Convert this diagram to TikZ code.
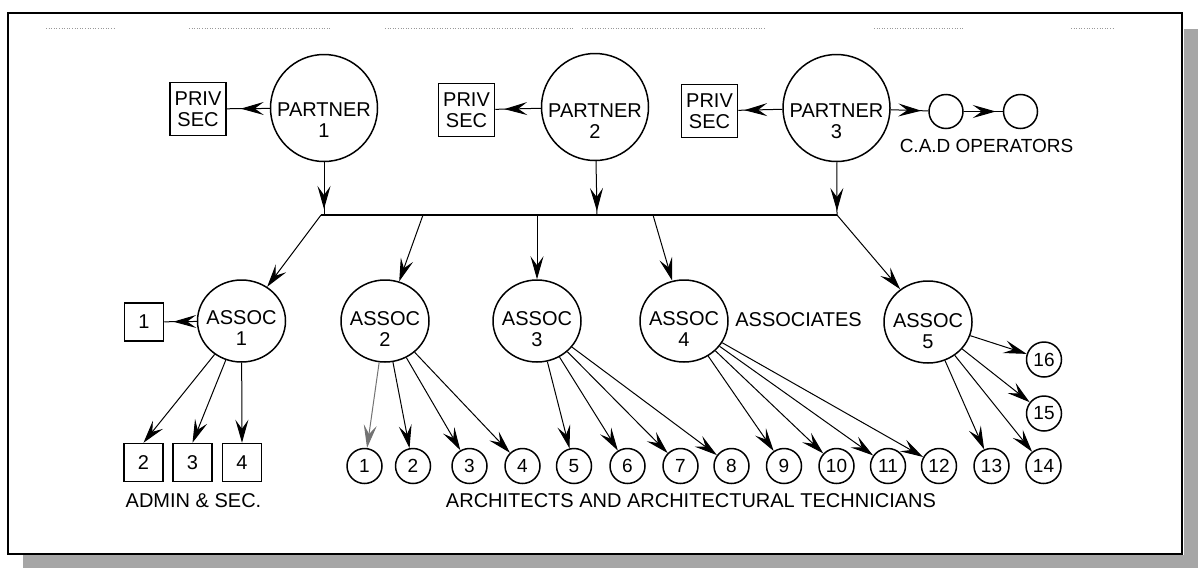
\documentclass[tikz,border=0pt]{standalone}
\usepackage{fontspec}
\setmainfont{Liberation Sans}
\usetikzlibrary{arrows.meta,shapes.geometric,decorations.markings}
\tikzset{barb/.tip={Stealth[length=23pt,width=13pt,inset=9pt]}}
\begin{document}
\begin{tikzpicture}[x=1pt,y=-1pt,
  conn/.style={line width=1pt,-barb},
  tipat/.style={line width=1pt,postaction={decorate},
    decoration={markings,mark=at position -#1 with {\arrow{barb}}}},
  shp/.style={draw,line width=1.5pt},
  lbl/.style={font=\fontsize{20}{21}\selectfont,align=center,inner sep=0pt},
  partner/.style={shp,circle,minimum size=107pt,inner sep=0pt},
  assoc/.style={shp,ellipse,minimum width=88pt,minimum height=82pt,inner sep=0pt},
  privbox/.style={shp,rectangle,minimum width=56pt,minimum height=53pt,inner sep=0pt,
    align=center,font=\fontsize{20}{21}\selectfont},
  adminbox/.style={shp,rectangle,minimum width=39pt,minimum height=38pt,inner sep=0pt,
    font=\fontsize{20}{20}\selectfont},
  staff/.style={shp,circle,minimum size=35pt,inner sep=0pt,
    font=\fontsize{19}{19}\selectfont},
  cad/.style={shp,circle,minimum size=34pt,inner sep=0pt},
  speck/.style={black!40,line width=0.7pt,dash pattern=on 1pt off 1.6pt},
]
\useasboundingbox (0,0) rectangle (1198,568);

% drop shadow and frame
\fill[black!35] (1184,29) rectangle (1198,568);
\fill[black!35] (23,555) rectangle (1198,568);
\fill[white] (8,13) rectangle (1182,554);
\draw[line width=1.3pt] (8,13) rectangle (1182,554);

% faint print marks along the top edge
\draw[speck] (46,28) -- (115,28);
\draw[speck] (189,28) -- (331,28);
\draw[speck] (385,28) -- (574,28);
\draw[speck] (582,28) -- (765,28);
\draw[speck] (874,28) -- (965,28);
\draw[speck] (1071,28) -- (1115,28);

% partners
\node[partner] (p1) at (324,108) {};
\node[lbl] (p1t) at (324,120) {PARTNER\\1};
\node[partner] (p2) at (595,107) {};
\node[lbl] (p2t) at (595,121) {PARTNER\\2};
\node[partner] (p3) at (836.5,108) {};
\node[lbl] (p3t) at (836.5,121.5) {PARTNER\\3};

% private secretaries
\node[privbox] (ps1) at (198,109) {PRIV\\SEC};
\node[privbox] (ps2) at (466.5,110) {PRIV\\SEC};
\node[privbox] (ps3) at (709.5,111) {PRIV\\SEC};

% CAD operators
\node[cad] (c1) at (946,111.5) {};
\node[cad] (c2) at (1020.5,111.5) {};
\node[lbl,font=\fontsize{19}{19}\selectfont] (cadt) at (986.5,146) {C.A.D OPERATORS};

% distribution bar
\coordinate (j1) at (321,215);
\coordinate (j2) at (423,215);
\coordinate (j3) at (537,215);
\coordinate (j4) at (653,215);
\coordinate (j5) at (837,215);
\coordinate (d1) at (324,215);
\coordinate (d2) at (597,215);
\draw[line width=1.4pt] (j1) -- (j5);

% associates
\node[assoc] (a1) at (241.5,321) {};
\node[assoc] (a2) at (385,321) {};
\node[assoc] (a3) at (537,321) {};
\node[assoc] (a4) at (684,321) {};
\node[assoc] (a5) at (928,322) {};
\node[lbl] (a1t) at (241.5,328) {ASSOC\\1};
\node[lbl] (a2t) at (385,329) {ASSOC\\2};
\node[lbl] (a3t) at (537,329) {ASSOC\\3};
\node[lbl] (a4t) at (684,329) {ASSOC\\4};
\node[lbl] (a5t) at (928,331) {ASSOC\\5};
\node[lbl] (asst) at (798.5,320) {ASSOCIATES};

% admin and secretarial staff
\node[adminbox] (s1) at (144,322) {1};
\node[adminbox] (s2) at (143.5,462.5) {2};
\node[adminbox] (s3) at (192.5,462.5) {3};
\node[adminbox] (s4) at (242,462.5) {4};
\node[lbl] (admt) at (193.5,501) {ADMIN \& SEC.};

% architects and technicians
\foreach \i/\x in {1/364.5,2/413,3/469.5,4/522.5,5/574,6/627.5,7/680.5,
                   8/731.5,9/784,10/836.5,11/888,12/939,13/991.5,14/1043.5}
  \node[staff] (n\i) at (\x,466) {\i};
\node[staff] (n15) at (1044,413.5) {15};
\node[staff] (n16) at (1044,359.5) {16};
\node[lbl] (archt) at (691,501) {ARCHITECTS AND ARCHITECTURAL TECHNICIANS};

% partner connections
\draw[tipat=14pt] (p1) -- (ps1);
\draw[tipat=9pt] (p2) -- (ps2);
\draw[tipat=6pt] (p3) -- (ps3);
\draw[tipat=7pt] (p3) -- (c1);
\draw[tipat=7pt] (c1) -- (c2);
\draw[tipat=6pt] (p1) -- (d1);
\draw[tipat=4pt] (p2) -- (d2);
\draw[tipat=4pt] (p3) -- (j5);

% bar to associates
\draw[conn] (j1) -- (a1);
\draw[conn] (j2) -- (a2);
\draw[conn] (j3) -- (a3);
\draw[conn] (j4) -- (a4);
\draw[conn] (j5) -- (a5);

% associate 1 to admin staff
\draw[tipat=9pt] (a1) -- (s1);
\draw[conn] (a1) -- (s2.north);
\draw[conn] (a1) -- (s3.north);
\draw[conn] (a1) -- (s4.north);

% associates to architects
\draw[conn,black!55] (a2) -- (n1);
\foreach \i in {2,3,4} \draw[conn] (a2) -- (n\i);
\foreach \i in {5,6,7,8} \draw[conn] (a3) -- (n\i);
\foreach \i in {9,10,11,12} \draw[conn] (a4) -- (n\i);
\foreach \i in {13,14,15,16} \draw[conn] (a5) -- (n\i);
\end{tikzpicture}
\end{document}
